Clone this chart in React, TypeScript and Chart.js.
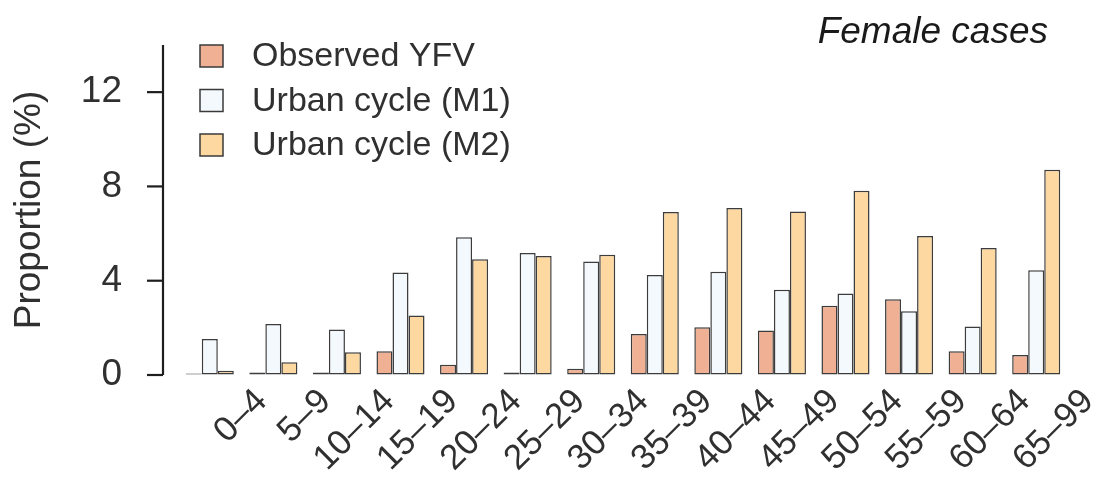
import { useEffect, useRef } from 'react';
import { Chart, registerables } from 'chart.js';

Chart.register(...registerables);

const ageGroups = ['0–4', '5–9', '10–14', '15–19', '20–24', '25–29', '30–34', '35–39', '40–44', '45–49', '50–54', '55–59', '60–64', '65–99'];
const observedYFV = [0, 0.11, 0.11, 1.01, 0.44, 0.11, 0.27, 1.74, 2.03, 1.89, 2.94, 3.21, 1.01, 0.85];
const urbanCycleM1 = [1.53, 2.16, 1.93, 4.35, 5.84, 5.18, 4.81, 4.24, 4.38, 3.62, 3.46, 2.7, 2.06, 4.44];
const urbanCycleM2 = [0.18, 0.54, 0.97, 2.52, 4.91, 5.05, 5.1, 6.92, 7.09, 6.94, 7.82, 5.9, 5.39, 8.71];
const yTickLabels = [0, 4, 8, 12];
const seriesNames = ['Observed YFV', 'Urban cycle (M1)', 'Urban cycle (M2)'];
const panelTitle = 'Female cases';
const yAxisTitle = 'Proportion (%)';

const FONT = '"Liberation Sans", Arial, Helvetica, sans-serif';
const TEXT = '#303030';

const offsetAxisPlugin = {
  id: 'offsetAxis',
  afterDraw(chart: any) {
    const { ctx, chartArea, scales } = chart;
    const y = scales.y;
    const x0 = chartArea.left - 15;
    ctx.save();
    ctx.strokeStyle = '#1e1e1e';
    ctx.lineWidth = 2.2;
    ctx.beginPath();
    ctx.moveTo(x0, y.getPixelForValue(y.max));
    ctx.lineTo(x0, y.getPixelForValue(y.min));
    ctx.stroke();
    for (const t of y.ticks) {
      const py = y.getPixelForValue(t.value);
      ctx.beginPath();
      ctx.moveTo(x0 - 16, py);
      ctx.lineTo(x0, py);
      ctx.stroke();
    }
    ctx.restore();
  },
};

const legendPlugin = {
  id: 'customLegend',
  afterDraw(chart: any) {
    const { ctx } = chart;
    ctx.save();
    ctx.font = `34px ${FONT}`;
    ctx.textBaseline = 'middle';
    ctx.textAlign = 'left';
    chart.data.datasets.forEach((ds: any, i: number) => {
      const cy = 56 + i * 44.5;
      ctx.fillStyle = ds.backgroundColor;
      ctx.fillRect(200, cy - 11, 23, 22);
      ctx.strokeStyle = '#3a3a3a';
      ctx.lineWidth = 1.5;
      ctx.strokeRect(200, cy - 11, 23, 22);
      ctx.fillStyle = TEXT;
      ctx.fillText(ds.label, 252, cy + 1);
    });
    ctx.restore();
  },
};

const panelTitlePlugin = {
  id: 'panelTitle',
  afterDraw(chart: any) {
    const { ctx } = chart;
    ctx.save();
    ctx.font = `italic 37px ${FONT}`;
    ctx.textAlign = 'right';
    ctx.textBaseline = 'alphabetic';
    ctx.fillStyle = '#1a1a1a';
    ctx.fillText(panelTitle, 1048, 43);
    ctx.restore();
  },
};

export default function App() {
  const canvasRef = useRef<HTMLCanvasElement | null>(null);

  useEffect(() => {
    document.body.style.margin = '0';
    const canvas = canvasRef.current;
    if (!canvas) return;
    const chart = new Chart(canvas, {
      type: 'bar',
      data: {
        labels: ageGroups,
        datasets: [
          { label: seriesNames[0], data: observedYFV, backgroundColor: '#F0B094' },
          { label: seriesNames[1], data: urbanCycleM1, backgroundColor: '#F4F9FD' },
          { label: seriesNames[2], data: urbanCycleM2, backgroundColor: '#FDD8A0' },
        ].map((d) => ({
          ...d,
          borderColor: '#3c3c3c',
          borderWidth: 1.5,
          borderSkipped: false,
          minBarLength: 1.5,
          categoryPercentage: 0.756,
          barPercentage: 1,
        })),
      },
      options: {
        animation: false,
        responsive: true,
        maintainAspectRatio: false,
        devicePixelRatio: 1,
        layout: { padding: { top: 45, right: 32, left: 0, bottom: 0 } },
        plugins: {
          legend: { display: false },
          tooltip: { enabled: false },
          title: { display: false },
        },
        scales: {
          x: {
            type: 'category',
            offset: true,
            grid: { display: false, drawTicks: false },
            border: { display: false },
            ticks: {
              autoSkip: false,
              maxRotation: 45,
              minRotation: 45,
              labelOffset: 52,
              padding: 6,
              color: TEXT,
              font: { family: FONT, size: 35 },
            },
            afterFit: (scale: any) => {
              scale.height = 106;
            },
          },
          y: {
            min: 0,
            max: 14,
            grid: {
              display: true,
              drawOnChartArea: false,
              drawTicks: true,
              tickLength: 56,
              tickColor: 'rgba(0,0,0,0)',
              tickWidth: 0,
            },
            border: { display: false },
            ticks: {
              stepSize: 2,
              padding: 0,
              color: TEXT,
              font: { family: FONT, size: 37 },
              callback: (v: any) => (yTickLabels.includes(Number(v)) ? String(v) : ''),
            },
            title: {
              display: true,
              text: yAxisTitle,
              color: TEXT,
              font: { family: FONT, size: 37 },
              padding: { top: 8, bottom: 0 },
            },
            afterFit: (scale: any) => {
              scale.width = 178;
            },
          },
        },
      },
      plugins: [offsetAxisPlugin, legendPlugin, panelTitlePlugin],
    });
    return () => chart.destroy();
  }, []);

  return (
    <div style={{ position: 'relative', width: '1100px', height: '481px' }}>
      <canvas ref={canvasRef} />
    </div>
  );
}
